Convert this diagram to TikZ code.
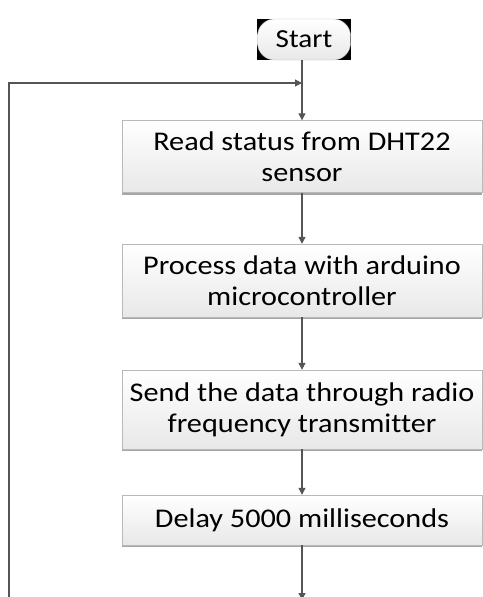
\documentclass[tikz,border=0pt]{standalone}
\usepackage{fontspec}
\setmainfont{Carlito}[Ligatures=NoCommon]
\usepackage{xcolor}
\definecolor{lineg}{RGB}{85,85,85}
\definecolor{boxedge}{RGB}{185,185,185}
\definecolor{boxlow}{RGB}{232,232,232}
\usetikzlibrary{arrows.meta,positioning,shadows,backgrounds}

\begin{document}
\begin{tikzpicture}[x=1pt,y=-1pt,
  box/.style={draw=boxedge,top color=white,bottom color=boxlow,minimum width=321pt,inner ysep=0pt,
    align=center,font=\fontsize{27}{31}\selectfont,xscale=1.12,transform shape,
    drop shadow={shadow xshift=0pt,shadow yshift=-2pt,opacity=0.7,fill=gray}},
  term/.style={draw=boxedge,rounded corners=17pt,top color=white,bottom color=boxlow,
    minimum width=83pt,minimum height=41pt,inner sep=0pt,font=\fontsize{26}{30}\selectfont,
    xscale=1.12,transform shape},
  flow/.style={draw=lineg,line width=1.2pt,-{Triangle[length=7pt,width=7pt]}}]
  \useasboundingbox (0,0) rectangle (482,597);
  % start terminal and the four steps
  \node[term] (start) at (304,39.5) {Start};
  \node[box,minimum height=72pt] (read) at (302,156.5) {Read status from DHT22\\sensor};
  \node[box,minimum height=73pt] (proc) at (302,280.5) {Process data with arduino\\microcontroller};
  \node[box,minimum height=79pt] (send) at (302,409.5) {Send the data through radio\\frequency transmitter};
  \node[box,minimum height=50pt] (delay) at (302,520) {Delay 5000 milliseconds};
  \begin{scope}[on background layer]
    \fill[black] (start.south west) rectangle (start.north east);
  \end{scope}
  % loop back points
  \coordinate (join) at (302,83);
  \coordinate (down) at (302,600);
  \coordinate (back) at (9,597);
  \draw[flow] (start.south -| join) -- (read.north -| join);
  \draw[flow] (read.south -| join) -- (proc.north -| join);
  \draw[flow] (proc.south -| join) -- (send.north -| join);
  \draw[flow] (send.south -| join) -- (delay.north -| join);
  \draw[flow] (delay.south -| join) -- (down);
  \draw[flow] (back) |- (join);
\end{tikzpicture}
\end{document}
